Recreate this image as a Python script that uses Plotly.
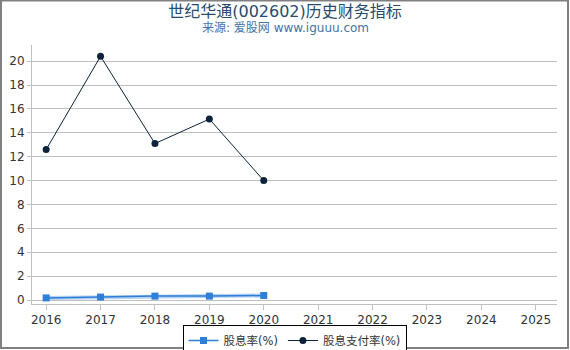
import plotly.graph_objects as go

years = [2016, 2017, 2018, 2019, 2020]
dividend_yield = [0.18, 0.25, 0.33, 0.33, 0.38]
payout_ratio = [12.6, 20.4, 13.1, 15.15, 10.0]
x_ticks = list(range(2016, 2026))
y_ticks = list(range(0, 21, 2))

W, H = 570, 350
ml, mr, mt, mb = 32, 13, 45, 46
pw, ph = W - ml - mr, H - mt - mb

fig = go.Figure()
fig.add_trace(go.Scatter(
    x=years, y=dividend_yield, mode="lines", showlegend=False, hoverinfo="skip",
    line=dict(color="rgba(47,126,216,0.35)", width=4)))
fig.add_trace(go.Scatter(
    x=years, y=dividend_yield, mode="lines+markers", name="股息率(%)",
    line=dict(color="#2f7ed8", width=1.5),
    marker=dict(symbol="square", size=7, color="#2f7ed8")))
fig.add_trace(go.Scatter(
    x=years, y=payout_ratio, mode="lines+markers", name="股息支付率(%)",
    line=dict(color="#0d233a", width=1),
    marker=dict(symbol="circle", size=7, color="#0d233a")))

font = "DejaVu Sans, Noto Sans CJK SC, sans-serif"
fig.update_layout(
    width=W, height=H,
    margin=dict(l=ml, r=mr, t=mt, b=mb, autoexpand=False),
    paper_bgcolor="white", plot_bgcolor="white",
    font=dict(family=font, size=12, color="#333333"),
    title=dict(text="世纪华通(002602)历史财务指标", x=0.5, xanchor="center",
               y=1 - 11 / H, yanchor="middle",
               font=dict(size=16, color="#274b6d", family=font)),
    xaxis=dict(range=[2015.74, 2025.39], tickmode="array", tickvals=x_ticks,
               ticktext=[str(v) for v in x_ticks], showgrid=False,
               showline=True, linecolor="#c0c0c0", linewidth=1,
               ticks="outside", ticklen=5, tickcolor="#c0c0c0",
               tickfont=dict(size=12, color="#333333"), zeroline=False),
    yaxis=dict(range=[-0.33, 21.35], tickmode="array", tickvals=y_ticks,
               showgrid=True, gridcolor="#c0c0c0", gridwidth=1,
               showline=True, linecolor="#c0c0c0", linewidth=1,
               ticks="outside", ticklen=4, tickcolor="#c0c0c0",
               tickfont=dict(size=12, color="#333333"), zeroline=False),
    legend=dict(orientation="h", x=0.5, xanchor="center",
                y=-(325 - mt - ph) / ph, yanchor="top",
                bordercolor="black", borderwidth=1, bgcolor="white",
                font=dict(size=11.5, color="#333333"),
                itemwidth=30, tracegroupgap=0, valign="middle"),
    annotations=[dict(text="来源: 爱股网 www.iguuu.com", xref="paper", yref="paper",
                      x=0.5 - (ml - mr) / 2 / pw, y=1 + (mt - 28) / ph,
                      xanchor="center", yanchor="middle", showarrow=False,
                      font=dict(size=12, color="#4572a7", family=font))],
    shapes=[dict(type="rect", xref="paper", yref="paper",
                 x0=-(ml - 1) / pw, x1=1 + (mr - 2) / pw,
                 y0=-(mb - 2) / ph, y1=1 + (mt - 0.5) / ph,
                 line=dict(color="#808080", width=2))],
)
fig.write_html("out.html")
